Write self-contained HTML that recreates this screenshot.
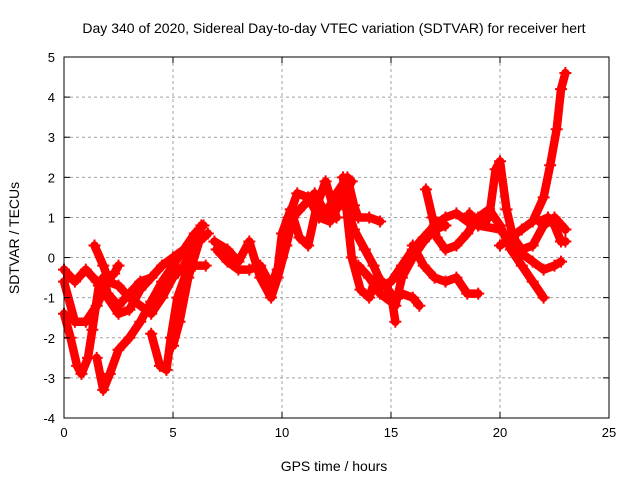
<!DOCTYPE html>
<html><head><meta charset="utf-8"><style>
body{margin:0;background:#fff}
svg{display:block;font-family:"Liberation Sans",sans-serif}
</style></head><body>
<svg id="c" width="640" height="480">
<text x="334" y="33" font-size="14" text-anchor="middle">Day 340 of 2020, Sidereal Day-to-day VTEC variation (SDTVAR) for receiver hert</text>
<text x="334" y="471" font-size="14" text-anchor="middle">GPS time / hours</text>
<text transform="translate(19,238) rotate(-90)" font-size="14" text-anchor="middle">SDTVAR / TECUs</text>
<g id="grid"></g><g id="marks"></g><g id="axes"></g>
</svg>
<script>
const xTicks=[0,5,10,15,20,25];
const yTicks=[-4,-3,-2,-1,0,1,2,3,4,5];
const track1T=[0,0.3,0.6,0.8,1.1,1.3,1.6,1.8,2.0,2.5,3.0,3.5,4.0];
const track1V=[-1.4,-2.0,-2.7,-2.9,-2.5,-1.8,-0.7,-0.5,-0.9,-1.2,-0.9,-0.6,-0.5];
const track2T=[0,0.5,1.0,1.5,2.0,2.5,3.0,3.5,4.0,4.5,5.0,5.5];
const track2V=[-0.3,-0.6,-0.3,-0.6,-1.0,-1.4,-1.3,-0.8,-0.5,-0.2,0,0.2];
const track3T=[1.4,1.8,2.0,2.3,2.5];
const track3V=[0.3,-0.2,-0.5,-0.4,-0.2];
const track4T=[1.5,1.8,2.1,2.5,3.0,3.5,4.0,4.5,5.0,5.5,6.0,6.4];
const track4V=[-2.5,-3.3,-2.9,-2.3,-2.0,-1.6,-1.1,-0.6,-0.2,0.2,0.6,0.8];
const track5T=[0,0.5,1.0,1.5,2.0,2.5,3.0,4.0,4.5,5.0,5.5,6.0,6.3];
const track5V=[-0.6,-1.6,-1.6,-1.2,-0.6,-0.7,-1.0,-1.4,-1.0,-0.5,-0.2,0.3,0.8];
const track6T=[4.0,4.4,4.7,4.9,5.2,5.6,6.0,6.5];
const track6V=[-1.9,-2.7,-2.8,-2.0,-1.0,-0.4,-0.2,-0.2];
const track7T=[5.0,5.3,5.7,6.2,6.6];
const track7V=[-2.2,-1.6,-0.5,0.4,0.6];
const track8T=[6.9,7.5,8.0,8.5,9.0,9.5,9.8,10.2,10.5,11.0,11.5,12.0,12.5,13.0,13.3,13.5,14.0,14.5];
const track8V=[0.4,0.2,-0.1,0.4,-0.5,-1.0,-0.5,0.3,1.0,1.3,1.6,1.1,1.6,2.0,1.3,1.0,1.0,0.9];
const track9T=[7.0,7.5,8.0,8.5,9.0,9.5,10.0,10.3,10.7,11.2,11.7,12.2,12.7,13.2];
const track9V=[0.2,-0.1,-0.3,-0.3,-0.2,-0.7,0.0,1.0,1.6,1.5,1.0,0.9,1.4,1.9];
const track10T=[9.8,10.0,10.4,10.8,11.2,11.6,12.0,12.5];
const track10V=[-0.3,0.6,1.2,0.5,0.3,1.3,1.9,1.0];
const track11T=[12.8,13.0,13.2,13.6,14.0,14.3,14.6,15.0,15.2];
const track11V=[2.0,1.0,0.0,-0.8,-1.0,-0.5,-0.6,-0.9,-1.6];
const track12T=[13.0,13.3,13.8,14.2,14.6,15.0,15.5,16.0,16.5,17.0,17.5,18.0,18.5,19.0,19.5,19.8,20.0,20.3,20.6,21.0,21.5,22.0,22.5,23.0];
const track12V=[1.2,0.7,0.2,-0.2,-0.7,-0.6,-0.2,0.2,0.5,0.8,1.0,1.1,0.9,0.8,1.0,2.2,2.4,1.2,0.5,0.2,0.3,0.8,1.0,0.7];
const track13T=[13.5,14.0,14.5,15.0,15.5,16.0,16.3];
const track13V=[-0.2,-0.5,-0.9,-1.1,-0.9,-1.0,-1.2];
const track14T=[16.6,16.9,17.1,17.5,18.0,18.5,19.0,19.5,20.0,20.5,21.0,21.5,22.0];
const track14V=[1.7,1.0,0.5,0.2,0.3,0.6,1.0,1.2,0.8,0.2,-0.2,-0.6,-1.0];
const track15T=[18.6,19.0,20.0,20.5,21.0,21.5,22.0,22.5,22.8];
const track15V=[1.1,0.8,0.7,0.4,0.1,-0.1,-0.3,-0.2,-0.1];
const track16T=[20.0,20.5,21.0,21.5,22.0,22.3,22.6,22.8,23.0];
const track16V=[0.3,0.5,0.7,0.9,1.5,2.3,3.2,4.2,4.6];
const track17T=[15.2,15.5,16.0,16.5,17.0,17.5];
const track17V=[-1.2,-0.5,0.0,0.4,0.7,0.8];
const track18T=[16.0,16.5,17.0,17.5,18.0,18.5,19.0];
const track18V=[0.3,-0.2,-0.5,-0.6,-0.5,-0.9,-0.9];
const track19T=[21.8,22.2,22.5,22.8,23.0];
const track19V=[0.9,1.0,0.8,0.4,0.4];
const tracksT=[track1T,track2T,track3T,track4T,track5T,track6T,track7T,track8T,track9T,track10T,track11T,track12T,track13T,track14T,track15T,track16T,track17T,track18T,track19T];
const tracksV=[track1V,track2V,track3V,track4V,track5V,track6V,track7V,track8V,track9V,track10V,track11V,track12V,track13V,track14V,track15V,track16V,track17V,track18V,track19V];

const L=64,R=609,T=57,B=418,xMin=0,xMax=25,yMin=-4,yMax=5;
const sx=v=>L+(v-xMin)/(xMax-xMin)*(R-L);
const sy=v=>B-(v-yMin)/(yMax-yMin)*(B-T);
const NS="http://www.w3.org/2000/svg";
function mk(tag,attrs,parent){const e=document.createElementNS(NS,tag);for(const k in attrs)e.setAttribute(k,attrs[k]);parent.appendChild(e);return e;}
const grid=document.getElementById('grid'),marks=document.getElementById('marks'),axes=document.getElementById('axes');

xTicks.forEach(t=>{
  const x=sx(t);
  if(t>xMin&&t<xMax){const g=mk('line',{x1:x,x2:x,y1:T,y2:B,stroke:'#a0a0a0','stroke-dasharray':'3,3'},grid);
  
  }
  mk('line',{x1:x,x2:x,y1:B,y2:B-6,stroke:'#000'},axes);
  mk('line',{x1:x,x2:x,y1:T,y2:T+6,stroke:'#000'},axes);
  const lb=mk('text',{x:x,y:B+19,'font-size':13,'text-anchor':'middle'},axes);
  lb.textContent=t;
  
  
});
yTicks.forEach(t=>{
  const y=sy(t);
  if(t>yMin&&t<yMax){const g=mk('line',{x1:L,x2:R,y1:y,y2:y,stroke:'#a0a0a0','stroke-dasharray':'3,3'},grid);
  
  }
  mk('line',{x1:L,x2:L+6,y1:y,y2:y,stroke:'#000'},axes);
  mk('line',{x1:R,x2:R-6,y1:y,y2:y,stroke:'#000'},axes);
  const lb=mk('text',{x:L-9,y:y+5,'font-size':13,'text-anchor':'end'},axes);
  lb.textContent=t;
  
  
});
const frame=mk('rect',{x:L,y:T,width:R-L,height:B-T,fill:'none',stroke:'#000'},axes);



tracksT.forEach((ts,i)=>{
  const vs=tracksV[i];
  const pts=ts.map((t,j)=>sx(t)+','+sy(vs[j])).join(' ');
  const pl=mk('polyline',{points:pts,fill:'none',stroke:'#ff0000','stroke-width':8.5,'stroke-linejoin':'round','stroke-linecap':'round'},marks);
  
  
  ts.forEach((t,j)=>{
    const x=sx(t),y=sy(vs[j]);
    const p=mk('path',{d:`M${x-6},${y}H${x+6}M${x},${y-6}V${y+6}`,stroke:'#ff0000','stroke-width':2},marks);
    
    
  });
});
</script>
</body></html>
